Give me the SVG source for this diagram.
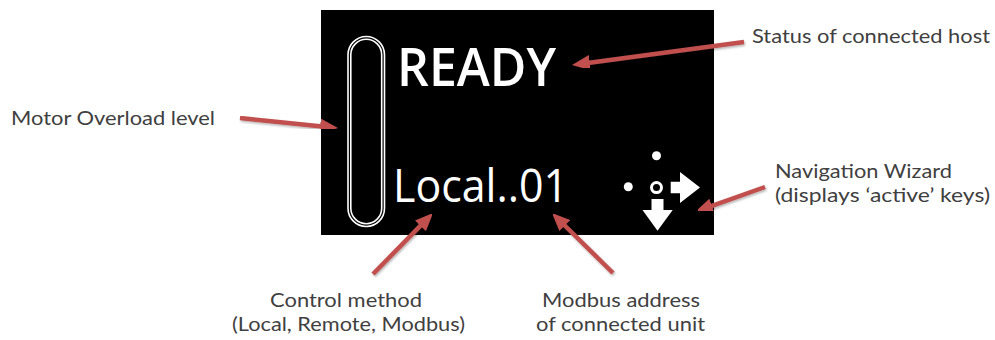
<svg xmlns="http://www.w3.org/2000/svg" width="995" height="340" viewBox="0 0 995 340">
<style>
.lbl{font-family:Lato,"Open Sans","Liberation Sans",sans-serif;font-size:20px;fill:#404040}
.scr{font-family:"Open Sans","Noto Sans","Liberation Sans",sans-serif;fill:#ffffff}
.arw{stroke:#C0504D;stroke-width:4.5;fill:none;marker-end:url(#head);filter:url(#sh)}
.w{fill:#ffffff}
</style>
<defs>
<marker id="head" markerUnits="strokeWidth" markerWidth="4" markerHeight="3.4" refX="0.5" refY="1.7" orient="auto" viewBox="0 0 4 3.4">
<path d="M0,0 L4,1.7 L0,3.4 z" fill="#C0504D"/>
</marker>
<filter id="sh" x="-20%" y="-20%" width="140%" height="140%">
<feDropShadow dx="1" dy="1.5" stdDeviation="1" flood-color="#000000" flood-opacity="0.3"/>
</filter>
</defs>
<rect width="995" height="340" fill="#ffffff"/>
<g id="screen">
<rect x="321" y="10" width="393" height="225" fill="#000000"/>
</g>
<g id="overload-bar">
<rect x="348" y="36.5" width="36.5" height="190" rx="18.25" fill="none" stroke="#ffffff" stroke-width="1.6"/>
<rect x="350.8" y="39.3" width="30.9" height="184.4" rx="15.45" fill="none" stroke="#ffffff" stroke-width="1.6"/>
</g>
<g id="status">
<text class="scr" x="397" y="86" font-size="52" font-weight="600" textLength="159" lengthAdjust="spacingAndGlyphs">READY</text>
</g>
<g id="control">
<text class="scr" x="393" y="202" font-size="46" font-weight="500" textLength="175" lengthAdjust="spacingAndGlyphs">Local..01</text>
</g>
<g id="nav-wizard">
<circle class="w" cx="656.5" cy="155.7" r="4.5"/>
<circle class="w" cx="628.3" cy="186.8" r="4.5"/>
<circle cx="656.5" cy="187.6" r="5" fill="none" stroke="#ffffff" stroke-width="3"/>
<path class="w" d="M670.7,181.7 L680,181.7 L680,172 L700,187.5 L680,203 L680,193.3 L670.7,193.3 z"/>
<path class="w" d="M651.5,199 L663.5,199 L663.5,210 L672.7,210 L657.5,230.7 L642.5,210 L651.5,210 z"/>
</g>
<g id="labels">
<text class="lbl" x="11" y="125" textLength="204" lengthAdjust="spacingAndGlyphs">Motor Overload level</text>
<text class="lbl" x="752" y="43" textLength="238" lengthAdjust="spacingAndGlyphs">Status of connected host</text>
<text class="lbl" x="775" y="177.5" textLength="177" lengthAdjust="spacingAndGlyphs">Navigation Wizard</text>
<text class="lbl" x="775" y="202" textLength="215" lengthAdjust="spacingAndGlyphs">(displays ‘active’ keys)</text>
<text class="lbl" x="270" y="306.5" textLength="152" lengthAdjust="spacingAndGlyphs">Control method</text>
<text class="lbl" x="232" y="331" textLength="233" lengthAdjust="spacingAndGlyphs">(Local, Remote, Modbus)</text>
<text class="lbl" x="542" y="306.5" textLength="158" lengthAdjust="spacingAndGlyphs">Modbus address</text>
<text class="lbl" x="536" y="331" textLength="169" lengthAdjust="spacingAndGlyphs">of connected unit</text>
</g>
<g id="connectors">
<line class="arw" x1="240" y1="118" x2="322.3" y2="126.4"/>
<line class="arw" x1="744" y1="42" x2="587.6" y2="62.9"/>
<line class="arw" x1="765" y1="187" x2="709.8" y2="206.7"/>
<line class="arw" x1="373" y1="274" x2="422" y2="224.2"/>
<line class="arw" x1="613" y1="273" x2="563.2" y2="224"/>
</g>
</svg>
